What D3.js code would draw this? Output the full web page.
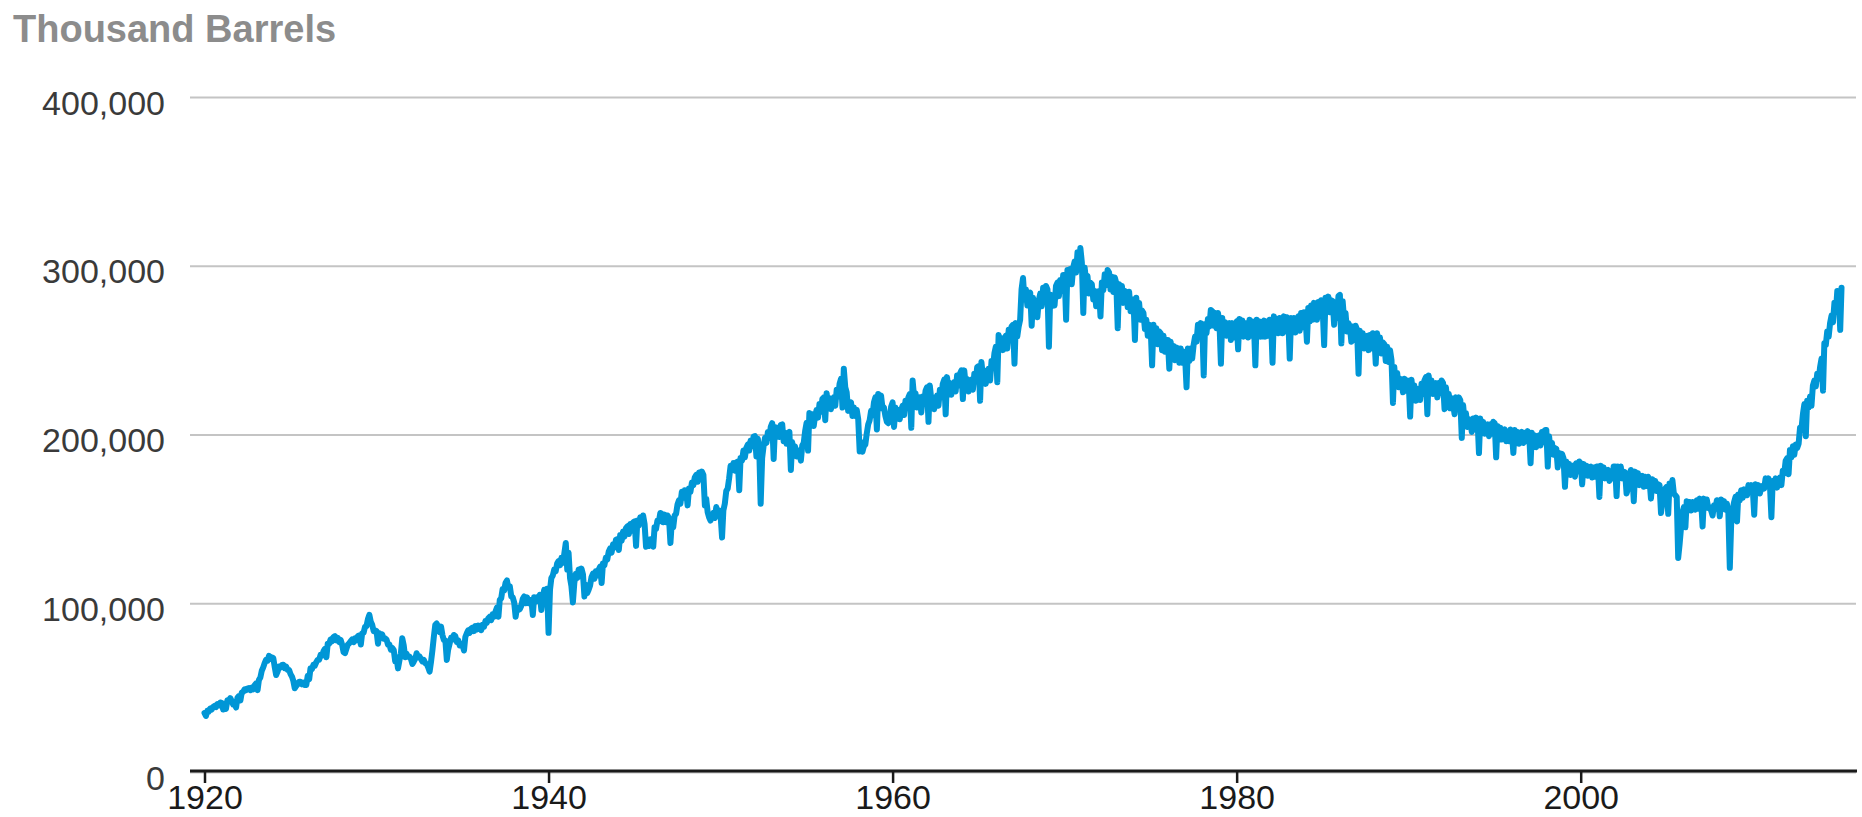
<!DOCTYPE html>
<html>
<head>
<meta charset="utf-8">
<title>U.S. Field Production of Crude Oil</title>
<style>
	body{
		margin:0;
		background:#fff;
	}
	svg text{
		font-family:"Liberation Sans", Arial, Helvetica, sans-serif;
	}
</style>
</head>
<body>
<svg id="chart" width="1862" height="817"></svg>
<script src="https://d3js.org/d3.v7.min.js"></script>
<script type="text/javascript">

// monthly production, million barrels, one row per year from startYear
var startYear = 1920;
var production = [
	35.0,33.2,36.2,35.8,37.6,37.0,38.6,39.2,38.5,40.2,39.5,41.2,
	41.0,37.0,38.5,37.5,42.5,42.1,43.8,42.0,40.0,40.5,38.2,44.0,
	45.0,42.4,47.0,47.5,49.0,48.5,49.5,49.8,48.5,50.0,49.0,51.5,
	52.5,48.5,54.5,56.0,60.0,62.0,64.5,66.5,66.0,68.8,67.0,68.0,
	67.5,62.0,57.5,59.5,62.5,62.0,63.4,63.5,61.5,62.4,60.5,60.5,
	58.0,56.5,54.0,49.6,51.0,52.0,53.5,53.5,52.0,53.0,51.5,51.6,
	57.0,55.0,61.5,61.0,63.5,63.0,65.0,66.5,66.5,69.5,69.0,71.5,
	73.0,68.0,76.0,76.0,78.5,77.5,80.0,80.5,78.0,79.5,77.0,78.2,
	75.5,71.0,70.4,73.0,75.5,76.3,77.5,78.5,77.0,79.2,78.0,80.5,
	81.0,75.5,82.2,82.5,86.0,86.5,90.5,93.1,89.0,87.2,83.5,84.0,
	83.5,76.0,82.2,80.5,81.5,79.0,79.2,78.5,75.5,75.5,72.5,73.5,
	72.3,65.5,68.0,61.4,66.0,70.0,79.2,75.0,68.0,70.0,68.3,68.5,
	67.0,64.0,65.4,67.0,70.4,68.0,68.5,67.0,65.5,66.4,64.5,64.0,
	62.0,59.5,65.0,72.0,80.0,87.2,88.0,84.0,83.0,86.2,81.0,78.2,
	78.0,66.4,72.5,76.0,79.5,78.5,81.2,80.5,77.0,78.0,75.0,76.0,
	75.3,72.0,80.0,82.2,84.0,82.5,85.0,85.5,83.5,86.5,84.5,86.8,
	86.5,84.0,87.2,86.0,89.5,88.5,91.1,92.0,90.0,93.5,92.0,95.1,
	97.5,92.0,102.0,103.0,108.5,107.5,112.0,113.5,109.0,110.0,104.0,103.5,
	100.5,92.0,97.5,96.0,96.5,98.5,102.5,104.0,100.0,103.5,100.0,101.0,
	102.0,93.0,103.5,101.0,103.5,102.5,105.0,96.0,104.0,108.0,106.0,108.5,
	82.5,108.0,115.0,116.5,120.0,119.0,123.5,125.0,122.5,127.0,124.0,129.5,
	135.7,120.0,130.0,115.0,110.0,100.5,112.0,117.5,115.0,120.0,116.0,120.5,
	117.0,104.0,111.0,106.0,108.0,110.5,115.5,117.5,114.5,119.0,116.5,120.0,
	121.7,112.0,123.5,122.5,127.0,126.0,130.5,132.5,130.0,135.0,133.0,137.5,
	138.0,131.5,140.5,137.0,142.5,139.5,144.5,145.5,141.0,147.0,143.0,148.0,
	148.5,134.0,149.0,146.0,151.0,148.0,152.0,147.0,133.5,135.0,134.0,138.0,
	138.0,133.5,145.0,144.0,149.0,148.5,153.5,153.0,148.0,152.5,148.0,152.0,
	150.5,135.7,148.0,145.0,152.0,153.0,158.5,161.0,159.0,166.0,162.5,167.0,
	166.5,158.0,168.0,166.0,171.5,170.0,174.5,176.0,172.0,177.5,173.5,178.0,
	176.0,158.0,162.0,154.0,151.0,149.0,151.5,153.5,150.5,157.0,153.0,155.0,
	152.0,139.0,155.0,159.0,166.5,168.0,174.0,181.5,180.0,183.0,178.5,183.5,
	184.0,167.0,186.0,184.5,190.5,186.5,192.0,194.0,190.5,196.5,193.0,198.7,
	199.0,187.0,197.5,190.5,159.0,186.0,193.0,198.0,195.0,201.5,198.0,204.5,
	206.7,185.5,204.5,199.0,204.0,198.5,205.6,206.0,196.0,201.0,194.5,200.0,
	201.6,179.0,195.5,190.0,193.0,187.0,190.5,190.0,184.5,193.5,195.0,202.0,
	207.0,190.5,212.7,206.5,212.0,205.0,211.0,214.5,210.0,218.0,213.5,221.0,
	222.0,208.5,224.5,216.5,221.5,215.0,219.5,222.0,217.0,226.5,222.5,230.0,
	233.0,216.0,239.0,228.0,225.0,214.0,218.0,219.0,211.0,216.0,211.0,214.5,
	209.0,190.0,195.5,189.8,193.0,194.0,200.5,206.0,208.5,214.0,211.5,219.0,
	222.0,203.0,224.0,220.5,223.0,215.5,216.0,211.0,207.5,206.7,208.0,216.5,
	219.0,204.5,216.0,210.0,214.5,209.0,214.5,217.0,211.5,220.0,216.0,222.0,
	224.0,204.0,232.0,222.5,224.5,216.0,220.0,222.0,213.0,222.5,219.0,226.0,
	228.0,207.5,229.0,221.0,222.0,215.0,220.5,223.0,217.0,226.5,222.0,230.0,
	232.5,212.0,234.0,227.0,230.5,223.5,229.0,231.0,225.5,235.0,229.0,236.0,
	238.0,221.0,238.0,229.5,233.0,225.5,231.5,232.5,226.5,236.0,232.0,240.0,
	240.5,220.0,243.0,234.5,238.0,230.0,235.5,239.0,232.0,243.5,239.5,248.0,
	252.0,231.0,259.0,251.5,257.0,250.0,256.0,258.5,251.0,262.0,256.0,264.0,
	265.0,242.0,266.0,258.0,264.0,268.0,286.0,292.7,280.0,286.0,276.5,283.0,
	284.0,264.5,281.0,272.0,279.0,269.5,279.5,283.5,276.0,287.0,280.0,288.0,
	286.0,252.0,283.0,276.0,282.5,276.5,288.0,290.0,282.0,291.5,285.0,294.5,
	294.5,268.0,297.5,290.0,298.0,289.0,299.0,302.5,296.0,308.0,301.5,310.5,
	302.0,272.0,299.0,291.0,294.0,283.5,290.0,289.0,280.0,285.0,276.0,283.0,
	285.0,270.0,290.0,285.5,295.0,288.5,297.5,296.0,286.0,293.5,284.5,293.0,
	289.7,263.0,289.0,280.0,288.0,278.0,285.0,284.0,275.5,284.6,273.0,280.0,
	280.0,256.0,281.0,271.0,278.0,268.0,273.5,272.0,262.5,268.0,258.5,265.0,
	263.5,241.0,265.0,255.0,263.0,253.5,261.0,260.0,250.0,258.5,249.0,256.0,
	256.0,239.0,255.0,245.5,252.5,244.0,251.5,251.0,242.5,251.0,242.5,249.0,
	246.0,228.0,251.0,243.5,251.0,245.0,253.0,258.0,255.0,265.0,258.5,266.0,
	264.0,235.0,265.5,260.0,268.5,264.0,273.8,273.0,264.5,272.0,263.0,272.0,
	266.0,242.0,269.0,259.5,266.5,258.5,264.5,266.0,256.0,266.0,257.5,265.5,
	267.0,250.5,268.5,259.5,267.5,258.0,265.0,266.0,257.5,268.0,258.5,267.0,
	266.5,241.0,268.0,259.0,267.0,258.0,266.5,267.5,258.0,267.0,258.5,268.0,
	267.0,242.5,270.0,261.0,268.5,260.0,269.0,268.0,260.0,270.0,261.0,269.5,
	268.5,245.0,269.0,260.5,269.0,260.5,268.5,270.0,261.5,272.0,263.5,272.5,
	270.0,255.0,275.0,267.0,276.5,268.0,278.0,277.5,268.0,278.5,271.0,279.5,
	274.0,253.0,281.0,273.5,281.7,272.5,279.5,279.0,265.0,276.0,269.0,282.0,
	282.7,254.0,279.0,268.0,272.0,261.0,266.0,264.0,255.0,264.0,256.0,264.5,
	262.0,236.0,261.5,252.5,260.0,251.0,258.0,258.5,250.0,259.0,251.0,260.0,
	259.0,242.0,260.0,250.5,257.5,248.0,254.5,253.5,243.5,252.0,243.0,250.0,
	244.0,218.7,240.0,229.5,236.5,228.0,233.0,232.5,225.0,233.0,226.0,232.0,
	231.0,210.6,232.5,224.0,229.0,220.0,226.0,227.0,220.5,230.0,224.0,232.0,
	234.0,212.0,235.0,226.0,232.0,224.0,229.0,230.5,222.0,230.5,224.5,232.0,
	230.5,215.0,228.0,219.5,224.0,215.5,221.5,218.0,212.0,222.0,215.5,222.0,
	220.4,198.0,217.5,208.5,212.6,204.5,209.0,208.5,201.5,209.5,203.0,210.0,
	209.0,189.0,209.5,202.0,207.5,200.5,205.5,206.0,199.0,206.0,200.5,207.5,
	206.7,186.5,205.0,198.0,204.0,197.0,201.5,203.0,196.0,200.5,196.0,203.0,
	201.5,189.0,202.7,195.5,201.5,194.5,199.5,201.5,195.0,201.0,196.0,202.0,
	200.7,183.0,201.0,194.5,199.5,192.5,198.0,199.5,193.5,201.5,195.5,202.5,
	202.7,181.0,199.0,190.5,195.0,188.0,192.0,191.5,180.5,189.0,184.0,188.5,
	186.0,169.0,184.0,177.5,182.5,176.0,180.5,181.5,175.0,183.0,178.0,184.0,
	183.0,170.5,182.5,176.0,181.5,175.5,180.5,181.0,174.5,180.5,175.0,181.0,
	181.0,163.0,181.5,176.0,180.5,174.0,178.5,179.0,172.5,178.0,174.0,181.0,
	181.0,163.5,181.0,175.5,181.0,174.0,178.0,177.5,165.0,168.0,173.0,179.0,
	177.0,160.5,178.0,172.0,177.0,170.0,174.0,175.5,169.0,175.0,169.5,175.0,
	173.0,162.0,173.5,167.0,172.5,166.5,170.5,170.0,153.5,160.0,161.5,168.0,
	169.0,153.0,171.0,166.0,173.0,165.0,164.0,163.0,126.8,135.0,145.0,154.0,
	157.0,145.0,160.5,155.5,160.0,155.0,160.0,158.5,155.5,161.0,156.0,162.0,
	160.5,145.5,162.0,157.5,161.5,156.5,157.0,155.0,152.0,158.0,156.0,161.0,
	160.0,151.5,161.5,156.0,160.5,155.5,159.0,153.5,121.0,148.0,155.5,160.0,
	163.0,148.5,164.5,161.0,167.0,162.5,167.5,166.0,164.0,170.0,166.0,170.0,
	168.0,152.5,170.5,165.0,170.0,165.0,168.5,169.5,168.0,174.0,169.5,174.0,
	170.0,151.0,172.5,168.5,174.0,168.5,172.0,174.5,170.0,178.5,177.0,184.5,
	186.0,176.5,190.8,186.5,193.0,188.0,194.0,192.0,194.5,204.0,203.5,212.0,
	218.0,199.0,220.0,216.0,222.5,217.0,229.0,232.0,228.5,236.0,233.0,240.0,
	245.0,226.0,254.0,253.0,261.0,258.0,266.0,270.5,266.5,278.0,272.5,285.0,
	284.0,262.0,287.0
];

var yTicks = [0, 100000, 200000, 300000, 400000];
var xTicks = [1920, 1940, 1960, 1980, 2000];
var unitLabel = 'Thousand Barrels';

var svg = d3.select('#chart'),
	left = 190,
	right = 1857,
	x = d3.scaleTime()
		.domain([new Date(1920, 0, 1), new Date(2000, 0, 1)])
		.range([204.5, 1580.7]),
	y = d3.scaleLinear()
		.domain([0, 400000])
		.range([772, 97]);

var points = production.map(function(v, i){
	return {date: new Date(startYear, i, 1), value: v * 1000};
});

// unit title
svg.append('text')
	.attr('x', 13)
	.attr('y', 42)
	.style('font-size', '38px')
	.style('font-weight', 'bold')
	.style('fill', '#8c8c8c')
	.text(unitLabel);

// y axis with grid lines
var yAxis = svg.append('g')
	.attr('transform', 'translate(' + left + ',0)')
	.call(d3.axisLeft(y)
		.tickValues(yTicks)
		.tickSize(-(right - 1 - left))
		.tickPadding(25)
		.tickFormat(d3.format(',')));
yAxis.select('.domain').remove();
yAxis.selectAll('line').style('stroke', '#c4c4c4').style('stroke-width', 2);
yAxis.selectAll('text')
	.attr('dy', '0.5em')
	.style('font-size', '34px')
	.style('fill', '#3a3a3a');

// data line
var line = d3.line()
	.x(function(d){ return x(d.date); })
	.y(function(d){ return y(d.value); });

svg.append('path')
	.datum(points)
	.style('fill', 'none')
	.style('stroke', '#0096d6')
	.style('stroke-width', 6)
	.style('stroke-linejoin', 'round')
	.style('stroke-linecap', 'round')
	.attr('d', line);

// x axis
svg.append('line')
	.attr('x1', left).attr('x2', right)
	.attr('y1', 771).attr('y2', 771)
	.style('stroke', '#1a1a1a')
	.style('stroke-width', 3);

var xAxis = svg.append('g')
	.attr('transform', 'translate(0,771)')
	.call(d3.axisBottom(x)
		.tickValues(xTicks.map(function(yr){ return new Date(yr, 0, 1); }))
		.tickSize(12)
		.tickPadding(2)
		.tickFormat(d3.timeFormat('%Y')));
xAxis.select('.domain').remove();
xAxis.selectAll('line').style('stroke', '#1a1a1a').style('stroke-width', 2.5);
xAxis.selectAll('text')
	.style('font-size', '34px')
	.style('fill', '#1a1a1a');

</script>
</body>
</html>
